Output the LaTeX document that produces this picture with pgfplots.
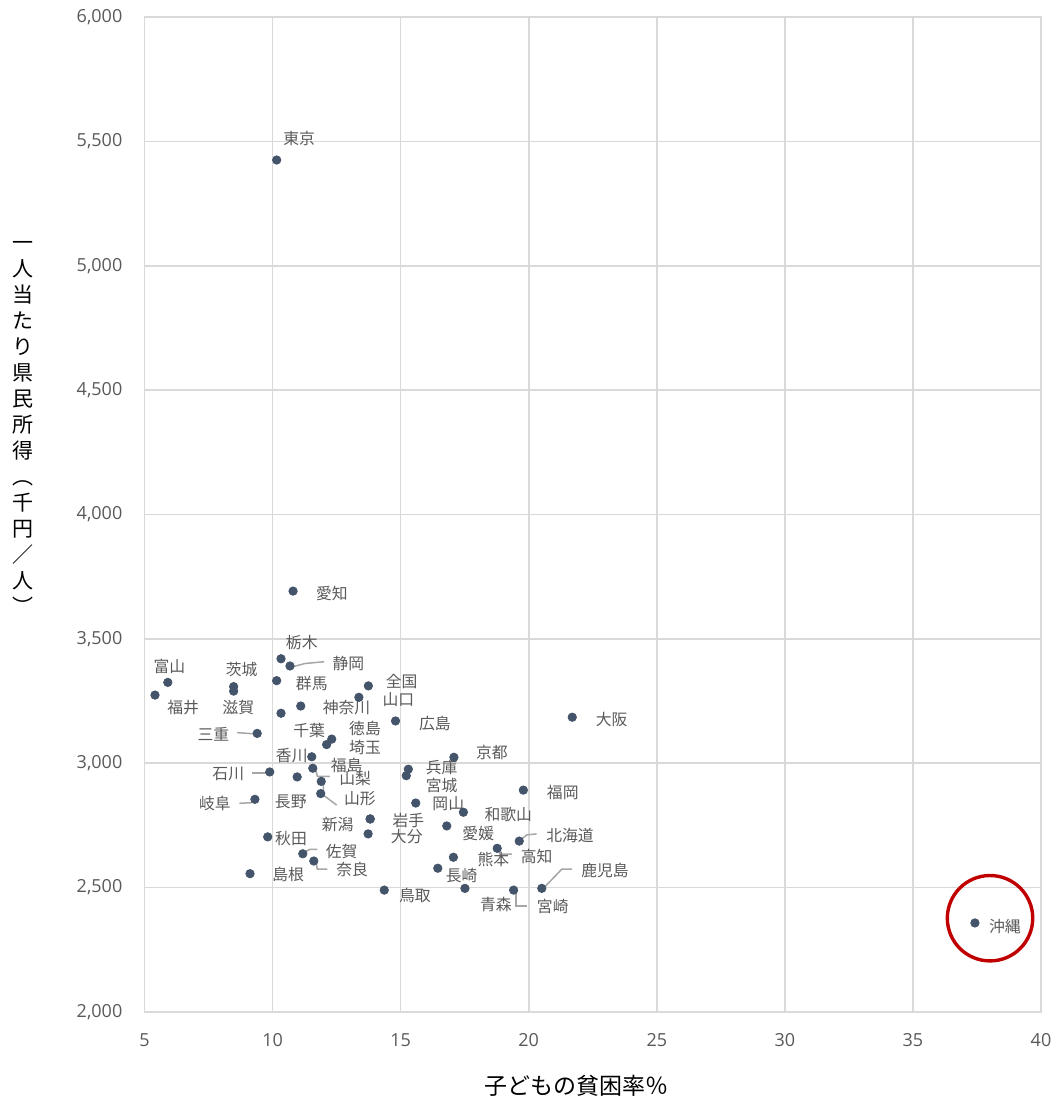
\documentclass[border=0pt]{standalone}
\usepackage{pgfplots}
\pgfplotsset{compat=1.18}
\usepackage{fontspec}
\setmainfont{Open Sans}
\newfontfamily\jp{Noto Sans CJK JP}
\definecolor{dotc}{HTML}{44546A}
\definecolor{labc}{HTML}{595959}
\definecolor{tickc}{HTML}{595959}
\definecolor{gridc}{HTML}{D9D9D9}
\definecolor{leadc}{HTML}{A6A6A6}
\definecolor{circc}{HTML}{C00000}
\tikzset{
  lbl/.style={font=\jp\fontsize{7.9}{9}\selectfont, text=labc, inner sep=0pt, anchor=center},
  lead/.style={draw=leadc, line width=0.75pt}
}
\begin{document}
\begin{tikzpicture}
\begin{axis}[
  scale only axis, width=448.25pt, height=497.5pt,
  xmin=5, xmax=40, ymin=2000, ymax=6000,
  xtick={5,10,...,40}, ytick={2000,2500,...,6000},
  yticklabels={{2,000},{2,500},{3,000},{3,500},{4,000},{4,500},{5,000},{5,500},{6,000}},
  grid=major, grid style={draw=gridc, line width=0.8pt},
  axis line style={draw=gridc, line width=0.8pt},
  major tick length=0pt,
  tick label style={font=\fontsize{9}{10}\selectfont, text=tickc},
  xticklabel style={anchor=center, yshift=-14pt, inner sep=0pt},
  yticklabel style={anchor=east, xshift=-10.9pt, inner sep=0pt},
  /pgf/number format/assume math mode=true,
  clip=false,
]
\addplot[only marks, mark=*, mark size=2.1pt, color=dotc, mark options={draw=dotc, fill=dotc}] coordinates {
(10.16,5425) (10.80,3692) (5.91,3325) (5.41,3274) (8.48,3308) (8.48,3290)
(10.33,3420) (10.68,3391) (10.16,3332) (10.33,3201) (11.10,3230) (9.40,3120)
(12.31,3097) (12.11,3075) (13.74,3311) (13.37,3265) (14.80,3170) (11.53,3026)
(11.57,2980) (9.89,2965) (10.96,2945) (11.90,2927) (11.88,2878) (9.31,2855)
(15.30,2976) (15.22,2950) (17.08,3024) (21.70,3185) (19.79,2892) (15.59,2840)
(17.45,2803) (16.80,2748) (19.63,2687) (18.77,2658) (17.06,2622) (16.45,2578)
(20.51,2497) (19.41,2490) (17.51,2497) (14.36,2490) (13.81,2776) (13.73,2716)
(9.81,2704) (11.18,2636) (11.61,2607) (9.12,2556) (37.42,2358) (13.81,2776)
};
% leader lines
\draw[lead] (axis cs:10.82,3389) -- (axis cs:11.27,3401) -- (axis cs:12.01,3408);
\draw[lead] (axis cs:8.62,3123) -- (axis cs:9.31,3118);
\draw[lead] (axis cs:9.19,2960) -- (axis cs:9.79,2960);
\draw[lead] (axis cs:8.70,2839) -- (axis cs:9.15,2841) -- (axis cs:9.31,2852);
\draw[lead] (axis cs:11.68,2973) -- (axis cs:11.75,2947) -- (axis cs:12.24,2947);
\draw[lead] (axis cs:11.98,2919) -- (axis cs:11.98,2872) -- (axis cs:12.50,2832);
\draw[lead] (axis cs:11.27,2644) -- (axis cs:11.46,2654) -- (axis cs:11.75,2654);
\draw[lead] (axis cs:11.70,2600) -- (axis cs:11.75,2574) -- (axis cs:12.14,2574);
\draw[lead] (axis cs:19.63,2687) -- (axis cs:19.92,2712) -- (axis cs:20.31,2716);
\draw[lead] (axis cs:18.80,2652) -- (axis cs:18.88,2635) -- (axis cs:19.34,2635);
\draw[lead] (axis cs:19.50,2484) -- (axis cs:19.50,2427) -- (axis cs:19.92,2427);
\draw[lead] (axis cs:20.57,2497) -- (axis cs:21.29,2574) -- (axis cs:21.68,2574);
% data labels
\node[lbl] at (axis cs:11.04,5510) {東京};
\node[lbl] at (axis cs:12.32,3684) {愛知};
\node[lbl] at (axis cs:5.97,3388) {富山};
\node[lbl] at (axis cs:6.51,3225) {福井};
\node[lbl] at (axis cs:8.79,3378) {茨城};
\node[lbl] at (axis cs:8.66,3225) {滋賀};
\node[lbl] at (axis cs:11.14,3485) {栃木};
\node[lbl] at (axis cs:12.96,3402) {静岡};
\node[lbl] at (axis cs:11.53,3321) {群馬};
\node[lbl] at (axis cs:12.89,3225) {神奈川};
\node[lbl] at (axis cs:15.04,3328) {全国};
\node[lbl] at (axis cs:14.91,3257) {山口};
\node[lbl] at (axis cs:16.34,3161) {広島};
\node[lbl] at (axis cs:7.69,3118) {三重};
\node[lbl] at (axis cs:11.43,3131) {千葉};
\node[lbl] at (axis cs:13.61,3140) {徳島};
\node[lbl] at (axis cs:13.61,3064) {埼玉};
\node[lbl] at (axis cs:10.75,3029) {香川};
\node[lbl] at (axis cs:12.89,2993) {福島};
\node[lbl] at (axis cs:13.22,2939) {山梨};
\node[lbl] at (axis cs:13.41,2859) {山形};
\node[lbl] at (axis cs:8.27,2957) {石川};
\node[lbl] at (axis cs:7.75,2839) {岐阜};
\node[lbl] at (axis cs:10.71,2845) {長野};
\node[lbl] at (axis cs:16.60,2982) {兵庫};
\node[lbl] at (axis cs:16.60,2909) {宮城};
\node[lbl] at (axis cs:18.56,3042) {京都};
\node[lbl] at (axis cs:23.24,3174) {大阪};
\node[lbl] at (axis cs:21.33,2882) {福岡};
\node[lbl] at (axis cs:16.86,2836) {岡山};
\node[lbl] at (axis cs:19.20,2792) {和歌山};
\node[lbl] at (axis cs:18.03,2718) {愛媛};
\node[lbl] at (axis cs:21.61,2708) {北海道};
\node[lbl] at (axis cs:20.31,2624) {高知};
\node[lbl] at (axis cs:18.62,2615) {熊本};
\node[lbl] at (axis cs:17.38,2547) {長崎};
\node[lbl] at (axis cs:22.98,2568) {鹿児島};
\node[lbl] at (axis cs:20.94,2426) {宮崎};
\node[lbl] at (axis cs:18.72,2434) {青森};
\node[lbl] at (axis cs:15.56,2470) {鳥取};
\node[lbl] at (axis cs:15.30,2769) {岩手};
\node[lbl] at (axis cs:15.24,2705) {大分};
\node[lbl] at (axis cs:12.54,2752) {新潟};
\node[lbl] at (axis cs:10.72,2698) {秋田};
\node[lbl] at (axis cs:12.70,2644) {佐賀};
\node[lbl] at (axis cs:13.11,2571) {奈良};
\node[lbl] at (axis cs:10.61,2551) {島根};
\node[lbl] at (axis cs:38.59,2343) {沖縄};
% highlight circle
\draw[draw=circc, line width=1.7pt] (axis cs:38.01,2377) circle[radius=21.35pt];
% axis titles
\node[font=\jp\fontsize{11.5}{13}\selectfont, text=black, inner sep=0pt, anchor=center] at (rel axis cs:0.4824,-0.0744) {子どもの貧困率％};
\node[font=\jp\fontsize{10.5}{13}\selectfont, text=black, inner sep=0pt, align=center, anchor=center] at (rel axis cs:-0.1355,0.5874) {一\\人\\当\\た\\り\\県\\民\\所\\得\\︵\\千\\円\\／\\人\\︶};
\end{axis}
\pgfresetboundingbox
\path ([shift={(-72.25pt,-43.5pt)}]current axis.south west) rectangle ([shift={(7.5pt,8.5pt)}]current axis.north east);
\end{tikzpicture}
\end{document}
